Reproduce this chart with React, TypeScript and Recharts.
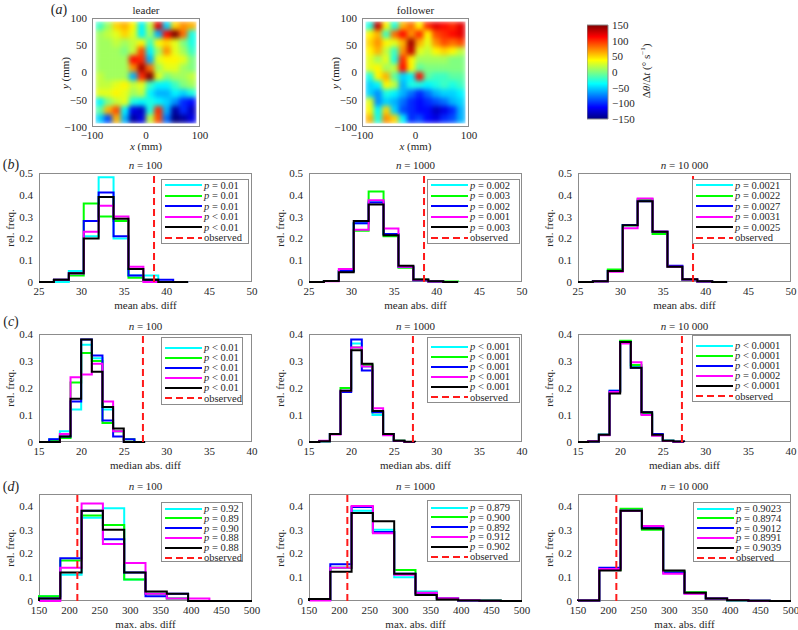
import React from "react";
import { LineChart, Line, XAxis, YAxis, ReferenceLine, ScatterChart, Scatter, BarChart, Bar } from "recharts";

const SERIF = '"Liberation Serif", "Times New Roman", serif';
const INK = "#262626";
const BOX = "#8c8c8c";
const COLORS = ["#00ffff", "#00ff00", "#0000ff", "#ff00ff", "#000000"];

// bin edges of the three statistics
const meanEdges = [25, 26.75, 28.5, 30.25, 32, 33.75, 35.5, 37.25, 39, 40.75, 42.5];
const medianEdges = [15, 16.2, 17.45, 18.7, 19.95, 21.2, 22.45, 23.7, 24.95, 26.2, 27.45];
const maxEdges = [150, 185, 220, 255, 290, 325, 360, 395, 430, 465, 500];

const meanTicks = [25, 30, 35, 40, 45, 50];
const medianTicks = [15, 20, 25, 30, 35, 40];
const maxTicks = [150, 200, 250, 300, 350, 400, 450, 500];
const freqTicksB = [0, 0.1, 0.2, 0.3, 0.4, 0.5];
const freqTicks = [0, 0.1, 0.2, 0.3, 0.4];

const observedMean = 38.5;
const observedMedian = 27.2;
const observedMax = 213;

// rel. freq. per bin: cyan, green, blue, magenta, black
const mean100 = [
  [0, 0, 0.05, 0.21, 0.48, 0.2, 0.03, 0.03, 0, 0],
  [0, 0.01, 0.03, 0.36, 0.3, 0.28, 0.02, 0.01, 0, 0],
  [0, 0.01, 0.04, 0.28, 0.41, 0.21, 0.03, 0.01, 0.01, 0],
  [0, 0.01, 0.04, 0.23, 0.35, 0.3, 0.07, 0, 0, 0],
  [0, 0.01, 0.04, 0.2, 0.39, 0.29, 0.06, 0.01, 0, 0],
];
const mean1000 = [
  [0, 0.005, 0.05, 0.27, 0.37, 0.22, 0.07, 0.01, 0.003, 0],
  [0, 0.005, 0.05, 0.235, 0.415, 0.21, 0.065, 0.012, 0.003, 0.002],
  [0, 0.005, 0.05, 0.27, 0.365, 0.22, 0.07, 0.008, 0.002, 0],
  [0, 0.003, 0.06, 0.24, 0.375, 0.245, 0.07, 0.01, 0.002, 0],
  [0, 0.005, 0.045, 0.28, 0.355, 0.215, 0.075, 0.012, 0.003, 0],
];
const mean10000 = [
  [0, 0.003, 0.055, 0.26, 0.375, 0.23, 0.07, 0.01, 0.002, 0],
  [0, 0.003, 0.057, 0.26, 0.38, 0.22, 0.07, 0.01, 0.002, 0],
  [0, 0.003, 0.05, 0.262, 0.37, 0.23, 0.075, 0.012, 0.002, 0],
  [0, 0.002, 0.047, 0.247, 0.383, 0.232, 0.07, 0.012, 0.002, 0],
  [0, 0.003, 0.05, 0.26, 0.37, 0.23, 0.07, 0.013, 0.003, 0],
];
const median100 = [
  [0, 0.01, 0.04, 0.12, 0.36, 0.31, 0.12, 0.04, 0, 0],
  [0, 0.005, 0.015, 0.22, 0.33, 0.3, 0.07, 0.04, 0.01, 0],
  [0, 0.01, 0.02, 0.15, 0.38, 0.32, 0.08, 0.02, 0.01, 0],
  [0, 0, 0.03, 0.24, 0.25, 0.29, 0.15, 0.04, 0, 0],
  [0, 0, 0.02, 0.16, 0.38, 0.26, 0.13, 0.05, 0, 0],
];
const median1000 = [
  [0, 0.003, 0.03, 0.19, 0.365, 0.28, 0.1, 0.027, 0.005, 0],
  [0, 0.003, 0.03, 0.2, 0.35, 0.285, 0.11, 0.028, 0.006, 0],
  [0, 0.003, 0.03, 0.185, 0.38, 0.265, 0.11, 0.03, 0.004, 0],
  [0, 0.005, 0.028, 0.19, 0.35, 0.28, 0.125, 0.025, 0.005, 0],
  [0, 0.003, 0.03, 0.19, 0.34, 0.29, 0.115, 0.03, 0.005, 0.001],
];
const median10000 = [
  [0, 0.002, 0.027, 0.19, 0.37, 0.28, 0.105, 0.025, 0.005, 0.001],
  [0, 0.002, 0.027, 0.185, 0.375, 0.285, 0.105, 0.025, 0.005, 0.001],
  [0, 0.002, 0.027, 0.19, 0.37, 0.275, 0.11, 0.03, 0.005, 0.001],
  [0, 0.003, 0.025, 0.185, 0.365, 0.295, 0.1, 0.023, 0.004, 0.001],
  [0, 0.002, 0.027, 0.18, 0.37, 0.275, 0.11, 0.027, 0.005, 0.002],
];
const max100 = [
  [0.02, 0.11, 0.35, 0.39, 0.09, 0.03, 0.01, 0, 0, 0],
  [0.02, 0.17, 0.36, 0.32, 0.09, 0.03, 0.01, 0, 0, 0],
  [0.01, 0.18, 0.38, 0.26, 0.12, 0.02, 0.03, 0, 0, 0],
  [0, 0.14, 0.41, 0.24, 0.16, 0.03, 0.01, 0.01, 0, 0],
  [0.01, 0.12, 0.38, 0.3, 0.12, 0.04, 0.03, 0, 0, 0],
];
const max1000 = [
  [0.005, 0.14, 0.38, 0.3, 0.1, 0.04, 0.01, 0.003, 0.001, 0],
  [0.005, 0.14, 0.37, 0.29, 0.13, 0.035, 0.01, 0.004, 0.003, 0],
  [0.005, 0.155, 0.395, 0.29, 0.115, 0.03, 0.01, 0.002, 0.001, 0],
  [0.002, 0.14, 0.4, 0.285, 0.11, 0.035, 0.012, 0.003, 0.001, 0],
  [0.008, 0.123, 0.37, 0.335, 0.115, 0.025, 0.006, 0.002, 0.001, 0],
];
const max10000 = [
  [0.002, 0.135, 0.385, 0.305, 0.12, 0.035, 0.01, 0.003, 0.001, 0],
  [0.002, 0.13, 0.388, 0.3, 0.125, 0.037, 0.01, 0.003, 0.001, 0],
  [0.002, 0.14, 0.38, 0.31, 0.12, 0.033, 0.01, 0.003, 0.001, 0],
  [0.002, 0.135, 0.38, 0.315, 0.115, 0.03, 0.01, 0.004, 0.001, 0],
  [0.002, 0.128, 0.38, 0.305, 0.128, 0.035, 0.01, 0.003, 0.001, 0],
];

const legMean100 = ["p = 0.01", "p = 0.01", "p = 0.01", "p < 0.01", "p < 0.01"];
const legMean1000 = ["p = 0.002", "p = 0.003", "p = 0.002", "p = 0.001", "p = 0.003"];
const legMean10000 = ["p = 0.0021", "p = 0.0022", "p = 0.0027", "p = 0.0031", "p = 0.0025"];
const legMedian100 = ["p < 0.01", "p < 0.01", "p < 0.01", "p < 0.01", "p < 0.01"];
const legMedian1000 = ["p < 0.001", "p < 0.001", "p < 0.001", "p < 0.001", "p < 0.001"];
const legMedian10000 = ["p < 0.0001", "p < 0.0001", "p < 0.0001", "p = 0.0002", "p < 0.0001"];
const legMax100 = ["p = 0.92", "p = 0.89", "p = 0.90", "p = 0.88", "p = 0.88"];
const legMax1000 = ["p = 0.879", "p = 0.900", "p = 0.892", "p = 0.912", "p = 0.902"];
const legMax10000 = ["p = 0.9023", "p = 0.8974", "p = 0.9012", "p = 0.8991", "p = 0.9039"];

// heat maps, 12 x 12 cells, top row first (deg/s)
const gridPos = [-85.25, -69.75, -54.25, -38.75, -23.25, -7.75, 7.75, 23.25, 38.75, 54.25, 69.75, 85.25];
const cellSize = 15.5;
const leaderRows = [
  [-20, 10, 50, 60, 40, -40, 20, 120, -50, 50, 70, 60],
  [10, 20, 30, 50, 30, -40, 10, -60, 110, 150, 80, -30],
  [10, 10, 20, 10, 20, 40, -20, 40, 50, 30, 0, -30],
  [10, 10, 10, 0, 20, 90, -40, 10, 70, 30, 10, -20],
  [10, 10, 10, 10, 110, 100, -60, 30, 40, 40, 30, 0],
  [10, 10, 10, 10, 70, 140, 80, 10, 30, 30, 10, 0],
  [20, 10, 10, 10, -60, 100, 150, 30, 0, 10, 10, 20],
  [20, 20, 30, 40, 20, 30, -20, -40, -40, -20, 0, 10],
  [30, 30, 40, 30, 10, 20, -40, -60, -60, -40, -50, -30],
  [-40, 0, 20, 30, -30, -40, -30, -40, -50, -70, -100, -110],
  [-10, 60, 90, -40, -120, -130, -30, 100, -60, -140, -100, -130],
  [-50, -90, 60, -60, -140, -120, 20, 90, -80, -150, -140, -120],
];
const followerRows = [
  [-30, 130, 40, -30, 60, 80, 40, 100, 120, 110, 100, 120],
  [40, 60, -20, 80, 110, 70, 100, 40, 90, 100, 110, 120],
  [50, 70, 40, 30, 60, 140, 60, 30, 70, 90, 80, 90],
  [40, 60, 20, -20, 70, 130, 30, 20, 40, 50, 40, 20],
  [30, 10, 30, -30, 100, 40, 10, 10, 10, 10, 0, 0],
  [30, 40, 10, 20, 110, 40, -10, 0, 0, 0, 0, 0],
  [-30, 40, 60, -10, -50, -40, 110, -10, -20, -20, -10, -10],
  [-50, -40, 40, 20, -60, -30, -30, -40, -30, -20, -30, -20],
  [-50, -70, -30, -40, -60, -80, -100, -80, -60, -50, -50, -40],
  [30, -70, -50, -60, -80, -100, -110, -100, -90, -80, -60, -50],
  [40, -40, 50, -50, -90, -100, -110, -110, -130, -120, -100, -60],
  [60, -30, 70, 50, -40, -100, -90, -110, -120, -100, -90, -60],
];
const mmTicksX = [-100, 0, 100];
const mmTicksY = [-100, -50, 0, 50, 100];
const cbarTicks = [-150, -100, -50, 0, 50, 100, 150];
const cbarRange = [{ name: "cbar", range: [-150, 150] }];

function jet(v: number) {
  const t = Math.max(0, Math.min(1, (v + 150) / 300));
  const f = (d: number) => Math.round(255 * Math.max(0, Math.min(1, 1.5 - Math.abs(4 * t - d))));
  return `rgb(${f(3)},${f(2)},${f(1)})`;
}

const minus = (v: number) => String(v).replace("-", "\u2212");
const tickStyle = { fontSize: 11, fill: INK, fontFamily: SERIF };

function Txt({ x, y, children, size = 11, rotate = false }: any) {
  return (
    <div
      style={{
        position: "absolute",
        left: x,
        top: y,
        transform: `translate(-50%, -50%)${rotate ? " rotate(-90deg)" : ""}`,
        fontSize: size,
        fontFamily: SERIF,
        color: INK,
        whiteSpace: "nowrap",
        lineHeight: 1,
      }}
    >
      {children}
    </div>
  );
}

function PLabel({ text }: { text: string }) {
  return (
    <>
      <i>{text.slice(0, 1)}</i>
      {text.slice(1)}
    </>
  );
}

function Legend({ box, labels, first, step }: any) {
  const [left, top, width, height] = box;
  const rows = [...labels, "observed"];
  return (
    <div
      style={{
        position: "absolute",
        left,
        top,
        width,
        height,
        border: `1px solid ${BOX}`,
        background: "#fff",
        boxSizing: "border-box",
        fontFamily: SERIF,
        fontSize: 10.5,
        color: INK,
      }}
    >
      {rows.map((lab, i) => (
        <div
          key={i}
          style={{ position: "absolute", left: 3, top: first + i * step - 5, height: 9, display: "flex", alignItems: "center" }}
        >
          <svg width={37} height={4} style={{ display: "block" }}>
            <line
              x1={0}
              y1={2}
              x2={37}
              y2={2}
              stroke={i < 5 ? COLORS[i] : "#ff1a1a"}
              strokeWidth={2}
              strokeDasharray={i < 5 ? undefined : "7 4"}
            />
          </svg>
          <span style={{ marginLeft: 2, whiteSpace: "nowrap", lineHeight: "9px" }}>
            {i < 5 ? <PLabel text={lab} /> : lab}
          </span>
        </div>
      ))}
    </div>
  );
}

const YW = 32;
const TM = 6;
const RM = 10;
const XH = 16;

function Hist({ px, py, pw, ph, edges, series, xTicks, yMax, yTicks, observed, title, xlabel, labels, box, first, step }: any) {
  const rows: any[] = [];
  const zero: any = { x: edges[0] };
  series.forEach((_: number[], j: number) => (zero[`s${j}`] = 0));
  rows.push(zero);
  for (let i = 0; i < edges.length - 1; i++) {
    const r: any = { x: edges[i] };
    series.forEach((s: number[], j: number) => (r[`s${j}`] = s[i]));
    rows.push(r);
  }
  rows.push({ ...zero, x: edges[edges.length - 1] });
  return (
    <>
      <div style={{ position: "absolute", left: px, top: py, width: pw, height: ph, border: `1px solid ${BOX}`, boxSizing: "border-box" }} />
      <div style={{ position: "absolute", left: px - YW, top: py - TM }}>
        <LineChart width={pw + YW + RM} height={ph + TM + XH} data={rows} margin={{ top: TM, right: RM, left: 0, bottom: 0 }}>
          <XAxis
            dataKey="x"
            type="number"
            domain={[xTicks[0], xTicks[xTicks.length - 1]]}
            ticks={xTicks}
            interval={0}
            height={XH}
            axisLine={false}
            tickLine={false}
            tickSize={2}
            tickMargin={3}
            tick={tickStyle}
          />
          <YAxis
            type="number"
            domain={[0, yMax]}
            ticks={yTicks}
            interval={0}
            width={YW}
            axisLine={false}
            tickLine={false}
            tickSize={4}
            tickMargin={2}
            tick={tickStyle}
          />
          {series.map((_: number[], j: number) => (
            <Line
              key={j}
              dataKey={`s${j}`}
              type="stepAfter"
              stroke={COLORS[j]}
              strokeWidth={2}
              dot={false}
              isAnimationActive={false}
            />
          ))}
          <ReferenceLine x={observed} stroke="#ff1a1a" strokeWidth={2} strokeDasharray="7 4" />
        </LineChart>
      </div>
      <Legend box={box} labels={labels} first={first} step={step} />
      <Txt x={px + pw / 2} y={py - 8}>
        <i>n</i> = {title}
      </Txt>
      <Txt x={px + pw / 2} y={py + ph + 23}>
        {xlabel}
      </Txt>
      <Txt x={px - 29} y={py + ph / 2} rotate>
        rel. freq.
      </Txt>
    </>
  );
}

function HeatMap({ px, py, pw, ph, grid, title }: any) {
  const pts: any[] = [];
  grid.forEach((row: number[], r: number) =>
    row.forEach((v, c) => pts.push({ x: gridPos[c], y: gridPos[gridPos.length - 1 - r], v }))
  );
  const cw = (cellSize / 200) * pw + 0.6;
  const ch = (cellSize / 200) * ph + 0.6;
  const hm = 10;
  return (
    <>
      <div style={{ position: "absolute", left: px, top: py, width: pw, height: ph, border: `1px solid ${BOX}`, boxSizing: "border-box" }} />
      <div className="heat" style={{ position: "absolute", left: px - YW, top: py - hm }}>
        <ScatterChart width={pw + YW + hm} height={ph + hm + XH} margin={{ top: hm, right: hm, left: 0, bottom: 0 }}>
          <XAxis
            dataKey="x"
            type="number"
            domain={[-100, 100]}
            ticks={mmTicksX}
            interval={0}
            height={XH}
            axisLine={false}
            tickLine={false}
            tickSize={3}
            tickMargin={1}
            tick={tickStyle}
            tickFormatter={minus}
          />
          <YAxis
            dataKey="y"
            type="number"
            domain={[-100, 100]}
            ticks={mmTicksY}
            interval={0}
            width={YW}
            axisLine={false}
            tickLine={false}
            tickSize={3}
            tickMargin={2}
            tick={tickStyle}
            tickFormatter={minus}
          />
          <Scatter
            data={pts}
            isAnimationActive={false}
            shape={(p: any) => (
              <rect x={p.cx - cw / 2} y={p.cy - ch / 2} width={cw} height={ch} fill={jet(p.payload.v)} />
            )}
          />
        </ScatterChart>
      </div>
      <Txt x={px + pw / 2} y={py - 8}>
        {title}
      </Txt>
      <Txt x={px + pw / 2} y={py + ph + 19}>
        <i>x</i> (mm)
      </Txt>
      <Txt x={px - 27} y={py + ph / 2} rotate>
        <i>y</i> (mm)
      </Txt>
    </>
  );
}

function ColorBar() {
  const px = 587;
  const py = 25;
  const pw = 21;
  const ph = 94;
  const aw = 30;
  const m = 8;
  return (
    <>
      <div style={{ position: "absolute", left: px, top: py - m }}>
        <BarChart
          width={pw + aw}
          height={ph + m * 2}
          data={cbarRange}
          margin={{ top: m, right: 0, left: 0, bottom: m }}
          barCategoryGap={0}
        >
          <defs>
            <linearGradient id="jetBar" x1="0" y1="1" x2="0" y2="0">
              <stop offset="0" stopColor="#000080" />
              <stop offset="0.125" stopColor="#0000ff" />
              <stop offset="0.375" stopColor="#00ffff" />
              <stop offset="0.625" stopColor="#ffff00" />
              <stop offset="0.875" stopColor="#ff0000" />
              <stop offset="1" stopColor="#800000" />
            </linearGradient>
          </defs>
          <XAxis dataKey="name" hide />
          <YAxis
            orientation="right"
            type="number"
            domain={[-150, 150]}
            ticks={cbarTicks}
            interval={0}
            width={aw}
            axisLine={false}
            tickLine={false}
            tickSize={2}
            tickMargin={2}
            tick={tickStyle}
            tickFormatter={minus}
          />
          <Bar dataKey="range" fill="url(#jetBar)" stroke={BOX} strokeWidth={1} isAnimationActive={false} />
        </BarChart>
      </div>
      <Txt x={646} y={71} rotate>
        Δ<i>θ</i>/Δ<i>t</i> (° s<sup style={{ fontSize: 7 }}>−1</sup>)
      </Txt>
    </>
  );
}

const cols = [39, 309, 578];
const PW = 213;

export default function App() {
  return (
    <div style={{ position: "absolute", left: 0, top: 0, width: 798, height: 630, background: "#fff", fontFamily: SERIF }}>
      <style>{".heat .recharts-scatter{filter:blur(2.6px);clip-path:inset(0)}"}</style>

      <Txt x={59} y={10} size={14}>
        (<i>a</i>)
      </Txt>
      <HeatMap px={92} py={18} pw={108} ph={109} grid={leaderRows} title="leader" />
      <HeatMap px={362} py={18} pw={107} ph={109} grid={followerRows} title="follower" />
      <ColorBar />

      <Txt x={11} y={165} size={14}>
        (<i>b</i>)
      </Txt>
      <Hist px={cols[0]} py={173} pw={PW} ph={109} edges={meanEdges} series={mean100} xTicks={meanTicks} yMax={0.5} yTicks={freqTicksB}
        observed={observedMean} title="100" xlabel="mean abs. diff" labels={legMean100} box={[161, 179, 88, 65]} first={5.7} step={10.5} />
      <Hist px={cols[1]} py={173} pw={PW} ph={109} edges={meanEdges} series={mean1000} xTicks={meanTicks} yMax={0.5} yTicks={freqTicksB}
        observed={observedMean} title="1000" xlabel="mean abs. diff" labels={legMean1000} box={[427, 179, 93, 65]} first={5.7} step={10.5} />
      <Hist px={cols[2]} py={173} pw={PW} ph={109} edges={meanEdges} series={mean10000} xTicks={meanTicks} yMax={0.5} yTicks={freqTicksB}
        observed={observedMean} title="10 000" xlabel="mean abs. diff" labels={legMean10000} box={[692, 179, 99, 65]} first={5.7} step={10.5} />

      <Txt x={11} y={322} size={14}>
        (<i>c</i>)
      </Txt>
      <Hist px={cols[0]} py={334} pw={PW} ph={108} edges={medianEdges} series={median100} xTicks={medianTicks} yMax={0.4} yTicks={freqTicks}
        observed={observedMedian} title="100" xlabel="median abs. diff" labels={legMedian100} box={[161, 337, 82, 68]} first={10} step={10.1} />
      <Hist px={cols[1]} py={334} pw={PW} ph={108} edges={medianEdges} series={median1000} xTicks={medianTicks} yMax={0.4} yTicks={freqTicks}
        observed={observedMedian} title="1000" xlabel="median abs. diff" labels={legMedian1000} box={[427, 337, 93, 66]} first={9} step={10.1} />
      <Hist px={cols[2]} py={334} pw={PW} ph={108} edges={medianEdges} series={median10000} xTicks={medianTicks} yMax={0.4} yTicks={freqTicks}
        observed={observedMedian} title="10 000" xlabel="median abs. diff" labels={legMedian10000} box={[692, 335, 99, 67]} first={10} step={10.1} />

      <Txt x={11} y={487} size={14}>
        (<i>d</i>)
      </Txt>
      <Hist px={cols[0]} py={494} pw={PW} ph={107} edges={maxEdges} series={max100} xTicks={maxTicks} yMax={0.45} yTicks={freqTicks}
        observed={observedMax} title="100" xlabel="max. abs. diff" labels={legMax100} box={[161, 502, 82, 60]} first={6} step={9.8} />
      <Hist px={cols[1]} py={494} pw={PW} ph={107} edges={maxEdges} series={max1000} xTicks={maxTicks} yMax={0.45} yTicks={freqTicks}
        observed={observedMax} title="1000" xlabel="max. abs. diff" labels={legMax1000} box={[427, 500, 93, 62]} first={7} step={9.8} />
      <Hist px={cols[2]} py={494} pw={PW} ph={107} edges={maxEdges} series={max10000} xTicks={maxTicks} yMax={0.45} yTicks={freqTicks}
        observed={observedMax} title="10 000" xlabel="max. abs. diff" labels={legMax10000} box={[693, 502, 98, 60]} first={6} step={9.8} />
    </div>
  );
}
